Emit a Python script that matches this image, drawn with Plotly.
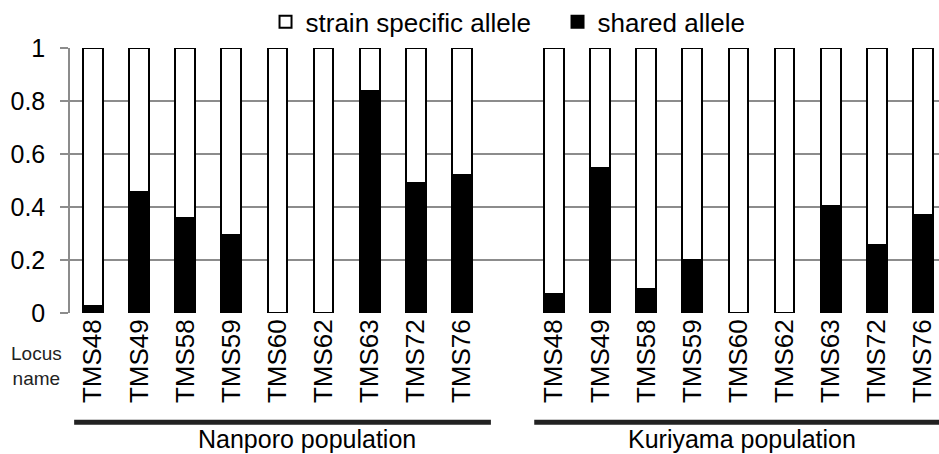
import plotly.graph_objects as go

loci = ["TMS48", "TMS49", "TMS58", "TMS59", "TMS60", "TMS62", "TMS63", "TMS72", "TMS76"]
populations = ["Nanporo population", "Kuriyama population"]
nanporo_shared = [0.028, 0.456, 0.357, 0.294, 0.0, 0.0, 0.836, 0.489, 0.519]
kuriyama_shared = [0.07, 0.549, 0.092, 0.20, 0.0, 0.0, 0.405, 0.256, 0.369]
y_ticks = [0, 0.2, 0.4, 0.6, 0.8, 1]
y_tick_labels = ["0", "0.2", "0.4", "0.6", "0.8", "1"]

# positions: Nanporo 0..8, gap, Kuriyama 10..18
x_pos = list(range(len(loci))) + [i + len(loci) + 1 for i in range(len(loci))]
labels = loci + loci
shared = nanporo_shared + kuriyama_shared
specific = [1 - v for v in shared]

FONT = "Liberation Sans, Arial, sans-serif"

fig = go.Figure()
fig.add_trace(go.Bar(
    x=x_pos, y=shared, name="shared allele", width=0.43,
    marker=dict(color="black", line=dict(color="black", width=2)),
))
fig.add_trace(go.Bar(
    x=x_pos, y=specific, name="strain specific allele", width=0.43,
    marker=dict(color="white", line=dict(color="black", width=2)),
))

fig.update_layout(
    barmode="stack",
    width=939, height=454,
    margin=dict(l=70, r=0, t=48, b=141, autoexpand=False),
    plot_bgcolor="white", paper_bgcolor="white",
    font=dict(family=FONT, size=25, color="black"),
    showlegend=True,
    legend=dict(orientation="h", traceorder="reversed", x=0.225, xanchor="left",
                yref="container", y=0.952, yanchor="middle",
                font=dict(size=26), itemwidth=30, tracegroupgap=0,
                entrywidth=247, entrywidthmode="pixels",
                bgcolor="rgba(0,0,0,0)"),
)
fig.update_xaxes(
    range=[-0.5, 18.35], tickmode="array", tickvals=x_pos, ticktext=labels,
    tickangle=-90, showgrid=False, zeroline=False, showline=False,
    ticks="", tickfont=dict(size=26), automargin=False,
)
fig.update_yaxes(
    range=[0, 1], tickmode="array", tickvals=y_ticks, ticktext=y_tick_labels,
    showgrid=True, gridcolor="#8c8c8c", gridwidth=1.5,
    zeroline=False, showline=True, linecolor="#8c8c8c", linewidth=1.5,
    ticks="outside", ticklen=8, tickcolor="#8c8c8c", tickwidth=1.5,
    ticklabelstandoff=10, tickfont=dict(size=25), automargin=False,
)

# population bars and labels
line_spans = [(-0.41, 8.63), (9.57, 18.35)]
label_x = [4.64, 14.08]
for (x0, x1), lx, name in zip(line_spans, label_x, populations):
    fig.add_shape(type="line", xref="x", yref="paper", x0=x0, x1=x1, y0=-0.412, y1=-0.412,
                  line=dict(color="#222222", width=5))
    fig.add_annotation(xref="x", yref="paper", x=lx, y=-0.476, text=name, showarrow=False,
                       font=dict(size=25), xanchor="center", yanchor="middle")

fig.add_annotation(xref="paper", yref="paper", x=-0.038, y=-0.2, text="Locus<br>name",
                   showarrow=False, font=dict(size=19, color="#222222"),
                   xanchor="center", yanchor="middle", align="center")

fig.write_html(
    "out.html",
    config={"displayModeBar": False},
    post_script="document.body.style.margin='0';document.body.style.overflow='hidden';",
)
